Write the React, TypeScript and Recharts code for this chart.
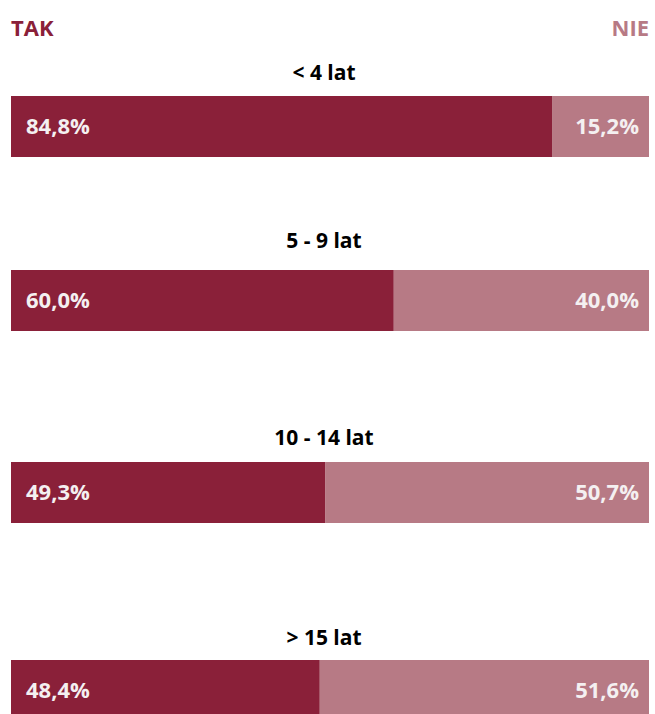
import React from "react";
import { BarChart, Bar, XAxis, YAxis, LabelList } from "recharts";

const categories = ["< 4 lat", "5 - 9 lat", "10 - 14 lat", "> 15 lat"];
const takValues = [84.8, 60.0, 49.3, 48.4];
const nieValues = [15.2, 40.0, 50.7, 51.6];
const seriesNames = ["TAK", "NIE"];

const DARK = "#8a2039";
const LIGHT = "#b77a85";
const FONT = "'Open Sans', 'Noto Sans', sans-serif";

// layout (pixel positions of each group)
const barTops = [96, 270, 462, 660];
const titleCenters = [72, 240, 437, 637];
const BAR_H = 61;
const BAR_X = 11;
const BAR_W = 638;

const fmt = (v: number) => v.toFixed(1).replace(".", ",") + "%";

const makeLabel = (side: "left" | "right") => (props: any) => {
  const { x, y, width, height, value } = props;
  const tx = side === "left" ? x + 15 : x + width - 10;
  return (
    <text
      x={tx}
      y={y + height / 2}
      dy="0.34em"
      textAnchor={side === "left" ? "start" : "end"}
      fill="#f4f0f1"
      style={{ fontFamily: FONT, fontWeight: 700, fontSize: 22 }}
    >
      {fmt(Number(value))}
    </text>
  );
};

export default function App() {
  return (
    <div
      style={{
        position: "absolute",
        left: 0,
        top: 0,
        width: 655,
        height: 714,
        overflow: "hidden",
        background: "#fff",
        fontFamily: FONT,
      }}
    >
      <div
        style={{
          position: "absolute",
          left: 11,
          top: 12,
          color: DARK,
          fontWeight: 700,
          fontSize: 22,
          lineHeight: "30px",
        }}
      >
        {seriesNames[0]}
      </div>
      <div
        style={{
          position: "absolute",
          right: 6,
          top: 12,
          color: LIGHT,
          fontWeight: 700,
          fontSize: 22,
          lineHeight: "30px",
        }}
      >
        {seriesNames[1]}
      </div>
      {categories.map((cat, i) => (
        <React.Fragment key={cat}>
          <div
            style={{
              position: "absolute",
              left: 0,
              width: 648,
              top: titleCenters[i] - 15,
              height: 30,
              lineHeight: "30px",
              textAlign: "center",
              color: "#000",
              fontWeight: 700,
              fontSize: 21,
            }}
          >
            {cat}
          </div>
          <div style={{ position: "absolute", left: BAR_X, top: barTops[i] }}>
            <BarChart
              width={BAR_W}
              height={BAR_H}
              layout="vertical"
              data={[{ name: cat, tak: takValues[i], nie: nieValues[i] }]}
              margin={{ top: 0, right: 0, bottom: 0, left: 0 }}
              barCategoryGap={0}
            >
              <XAxis type="number" domain={[0, 100]} hide />
              <YAxis type="category" dataKey="name" hide />
              <Bar dataKey="tak" stackId="a" fill={DARK} isAnimationActive={false}>
                <LabelList dataKey="tak" content={makeLabel("left")} />
              </Bar>
              <Bar dataKey="nie" stackId="a" fill={LIGHT} isAnimationActive={false}>
                <LabelList dataKey="nie" content={makeLabel("right")} />
              </Bar>
            </BarChart>
          </div>
        </React.Fragment>
      ))}
    </div>
  );
}
